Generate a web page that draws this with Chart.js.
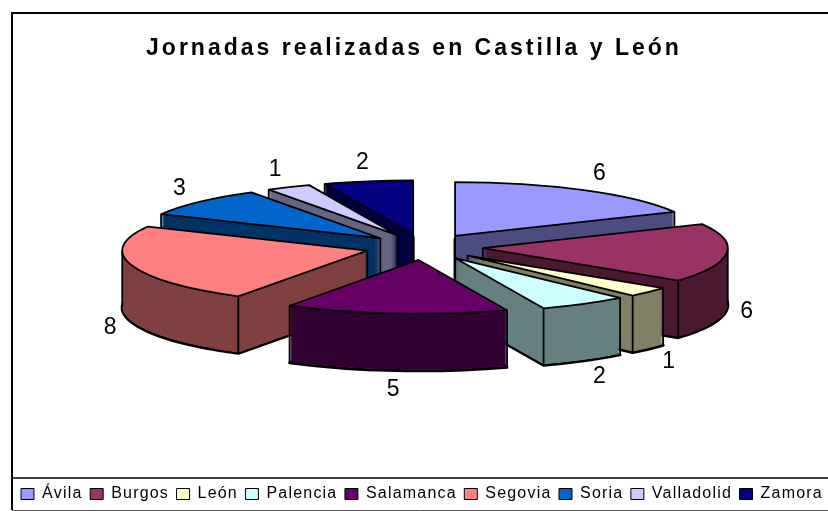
<!DOCTYPE html>
<html>
<head>
<meta charset="utf-8">
<title>Jornadas realizadas en Castilla y León</title>
<script src="https://cdn.jsdelivr.net/npm/chart.js@4"></script>
<style>
    html, body { margin: 0; padding: 0; background: #fff; }
    #chart-box { width: 828px; height: 511px; }
</style>
</head>
<body>
<div id="chart-box"><canvas id="jornadas-chart" width="828" height="511"></canvas></div>
<script>
// Data
const titleText = 'Jornadas realizadas en Castilla y León';
const provinces = ['Ávila', 'Burgos', 'León', 'Palencia', 'Salamanca', 'Segovia', 'Soria', 'Valladolid', 'Zamora'];
const jornadas = [6, 6, 1, 2, 5, 8, 3, 1, 2];
const topColors = ['#9999FF', '#993366', '#FFFFCC', '#CCFFFF', '#660066', '#FF8080', '#0066CC', '#CCCCFF', '#000080'];
const wallColors = ['#4D4D80', '#4D1A33', '#808066', '#668080', '#330033', '#804040', '#003366', '#666680', '#000040'];

// 3D look of the old spreadsheet pie
const pieX = 424, pieY = 247;
const squash = 0.22;
const explode = 59;
const depth = 57;

// Path of one slice, squashed and moved out along its middle angle
function slicePath(ctx, arc, dy) {
    const mid = (arc.startAngle + arc.endAngle) / 2;
    ctx.save();
    ctx.translate(pieX + Math.cos(mid) * explode, pieY + Math.sin(mid) * explode * squash + dy);
    ctx.scale(1, squash);
    ctx.beginPath();
    ctx.moveTo(0, 0);
    ctx.arc(0, 0, arc.outerRadius, arc.startAngle, arc.endAngle);
    ctx.closePath();
    ctx.restore();
}

// Outline corners that may get a vertical edge
function cornerAngles(arc) {
    const list = [arc.startAngle, arc.endAngle];
    [0, Math.PI].forEach(a => {
        if (a > arc.startAngle && a < arc.endAngle) list.push(a);
    });
    return list;
}

const pie3d = {
    id: 'pie3d',
    beforeDatasetsDraw(chart) {
        const ctx = chart.ctx;
        const arcs = chart.getDatasetMeta(0).data;
        const order = arcs.map((arc, i) => i).sort((a, b) => {
            const ma = (arcs[a].startAngle + arcs[a].endAngle) / 2;
            const mb = (arcs[b].startAngle + arcs[b].endAngle) / 2;
            return Math.sin(ma) - Math.sin(mb);
        });

        ctx.save();
        ctx.letterSpacing = '0px';
        ctx.strokeStyle = '#000';
        ctx.lineJoin = 'round';
        order.forEach(i => {
            const arc = arcs[i];
            const mid = (arc.startAngle + arc.endAngle) / 2;
            const ox = pieX + Math.cos(mid) * explode;
            const oy = pieY + Math.sin(mid) * explode * squash;

            // bottom outline, then the walls swept over it
            ctx.lineWidth = 3;
            slicePath(ctx, arc, depth);
            ctx.stroke();
            ctx.fillStyle = wallColors[i];
            for (let d = depth - 1; d >= 0; d--) {
                slicePath(ctx, arc, d);
                ctx.fill();
            }

            // vertical edges, only where the top face does not sit over them
            slicePath(ctx, arc, 0);
            const edges = [[ox, oy]];
            cornerAngles(arc).forEach(a => {
                edges.push([ox + Math.cos(a) * arc.outerRadius, oy + Math.sin(a) * arc.outerRadius * squash]);
            });
            const visible = edges.filter(p => !ctx.isPointInPath(p[0], p[1] + 2));
            ctx.lineWidth = 1.8;
            ctx.beginPath();
            visible.forEach(p => {
                ctx.moveTo(p[0], p[1]);
                ctx.lineTo(p[0], p[1] + depth);
            });
            ctx.stroke();

            // top face
            slicePath(ctx, arc, 0);
            ctx.fillStyle = topColors[i];
            ctx.fill();
            ctx.stroke();
        });

        // value labels outside each slice
        ctx.fillStyle = '#000';
        ctx.font = '23px "Liberation Sans", Arial, sans-serif';
        ctx.textAlign = 'center';
        ctx.textBaseline = 'middle';
        arcs.forEach((arc, i) => {
            const mid = (arc.startAngle + arc.endAngle) / 2;
            const sy = Math.sin(mid);
            const reach = arc.outerRadius + explode + 19 + 12 * Math.abs(sy);
            const x = pieX + Math.cos(mid) * reach;
            const y = pieY + sy * 86 + (sy > 0 ? depth : 0);
            ctx.fillText(String(jornadas[i]), x, y);
        });
        ctx.restore();
        return false;
    }
};

// Chart frame, legend rule and the wide letter spacing of the texts
const frame = {
    id: 'frame',
    beforeUpdate(chart) {
        chart.ctx.letterSpacing = '1.2px';
    },
    afterLayout(chart) {
        const title = chart.titleBlock;
        const legend = chart.legend;
        if (title.draw === Object.getPrototypeOf(title).draw) {
            title.draw = function () {
                const ctx = this.ctx;
                ctx.save();
                ctx.letterSpacing = '3px';
                Object.getPrototypeOf(this).draw.call(this);
                ctx.restore();
            };
            legend.draw = function () {
                const ctx = this.ctx;
                ctx.save();
                ctx.letterSpacing = '1.2px';
                ctx.translate(13.5, 1);
                Object.getPrototypeOf(this).draw.call(this);
                ctx.restore();
            };
        }
    },
    beforeDraw(chart) {
        const ctx = chart.ctx;
        ctx.save();
        ctx.strokeStyle = '#000';
        ctx.lineWidth = 2;
        ctx.beginPath();
        ctx.moveTo(830, 13);
        ctx.lineTo(12, 13);
        ctx.lineTo(12, 510);
        ctx.stroke();
        ctx.lineWidth = 1.5;
        ctx.beginPath();
        ctx.moveTo(12, 478);
        ctx.lineTo(830, 478);
        ctx.stroke();
        ctx.strokeStyle = '#555';
        ctx.lineWidth = 1;
        ctx.beginPath();
        ctx.moveTo(12, 510.5);
        ctx.lineTo(830, 510.5);
        ctx.stroke();
        ctx.restore();
    }
};

const chart = new Chart(document.getElementById('jornadas-chart'), {
    type: 'pie',
    data: {
        labels: provinces,
        datasets: [{
            data: jornadas,
            backgroundColor: topColors,
            borderWidth: 1,
            borderColor: '#000',
            radius: 245
        }]
    },
    options: {
        responsive: false,
        animation: false,
        plugins: {
            tooltip: { enabled: false },
            title: {
                display: true,
                text: titleText,
                color: '#000',
                font: { family: '"Liberation Sans", Arial, sans-serif', size: 23, weight: 'bold' },
                padding: { top: 35, bottom: 10 }
            },
            legend: {
                position: 'bottom',
                align: 'start',
                labels: {
                    boxWidth: 13,
                    boxHeight: 11,
                    padding: 7.5,
                    color: '#000',
                    font: { family: '"Liberation Sans", Arial, sans-serif', size: 16 }
                }
            }
        }
    },
    plugins: [frame, pie3d]
});
</script>
</body>
</html>
